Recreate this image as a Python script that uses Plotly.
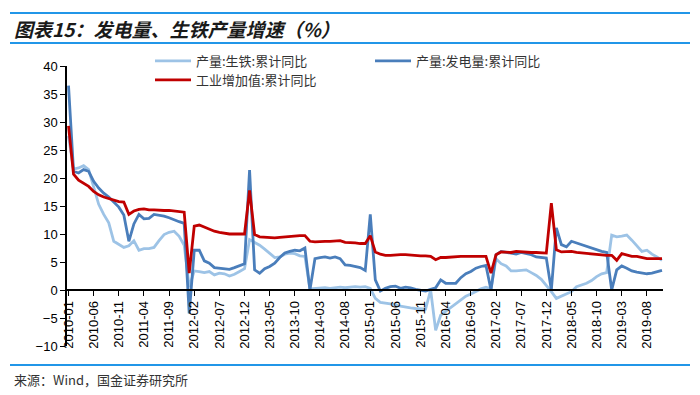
import plotly.graph_objects as go

# ---------------- data ----------------
months = [f"{y}-{m:02d}" for y in range(2010, 2020) for m in range(1, 13)][:119]
tick_labels = months[::5]

# 产量:生铁:累计同比
pig_iron = [
    27.5, 21.6, 21.8, 22.2, 21.5, 18.5, 15.3, 13.5, 12.0, 8.7, 8.1, 7.6,
    7.9, 8.8, 7.1, 7.4, 7.4, 7.6, 8.8, 9.9, 10.3, 10.5, 9.6, 8.0,
    0.5, 3.4, 3.3, 3.1, 3.3, 2.7, 3.0, 2.9, 2.5, 2.8, 3.3, 3.8,
    9.0, 8.5, 8.0, 7.3, 6.5, 5.8, 5.9, 6.4, 6.6, 6.5, 6.1, 6.0,
    0.2, 0.3, 0.3, 0.4, 0.3, 0.4, 0.5, 0.4, 0.5, 0.6, 0.5, 0.6,
    0.3, -1.5, -2.2, -2.3, -2.4, -2.6, -2.9, -3.1, -3.2, -3.3, -3.4, -3.4,
    0.0, -7.2, -4.5, -3.8, -3.1, -2.4, -1.7, -1.1, -0.7, -0.2, 0.2, 0.5,
    0.2, 5.6, 4.7, 4.3, 3.4, 3.4, 3.5, 3.6, 3.1, 2.6, 1.9, 0.9,
    -0.3, -1.5, -1.1, -0.8, -0.3, 0.6, 0.9, 1.2, 1.7, 2.4, 2.9, 3.1,
    9.8, 9.5, 9.6, 9.8, 8.9, 7.8, 6.9, 7.1, 6.4, 5.9, 5.3,
]

# 产量:发电量:累计同比
power = [
    36.5, 21.2, 20.9, 21.5, 21.2, 19.4, 18.2, 17.3, 16.6, 15.7, 14.8, 13.4,
    8.7, 11.8, 13.5, 12.7, 12.8, 13.5, 13.4, 13.2, 12.9, 12.5, 12.2, 11.9,
    -4.2, 7.1, 7.1, 5.2, 4.8, 4.0, 3.9, 3.8, 3.7, 4.0, 4.4, 4.7,
    21.4, 3.6, 3.0, 3.8, 4.2, 4.8, 5.8, 6.6, 6.9, 7.1, 7.0, 7.5,
    0.0, 5.6, 5.8, 5.9, 5.7, 5.9, 5.6, 4.5, 4.4, 4.2, 4.0, 3.5,
    13.5, 1.8, -0.2, 0.3, 0.6, 0.7, 0.3, 0.5, 0.4, 0.1, -0.1, -0.2,
    0.1, 0.4, 1.8, 1.2, 1.2, 1.2, 2.2, 2.9, 3.3, 3.9, 4.2, 4.4,
    0.0, 6.3, 6.9, 6.7, 6.5, 6.4, 6.7, 6.5, 6.3, 5.9, 5.8, 5.7,
    0.0, 11.1, 8.1, 7.7, 8.7, 8.4, 8.0, 7.7, 7.4, 7.1, 6.9, 6.7,
    0.0, 3.6, 4.3, 3.9, 3.4, 3.2, 3.0, 2.9, 3.0, 3.2, 3.5,
]

# 工业增加值:累计同比
industry = [
    29.3, 20.7, 19.6, 19.1, 18.5, 17.6, 17.0, 16.6, 16.3, 16.1, 15.8, 15.7,
    13.5, 14.1, 14.4, 14.5, 14.3, 14.3, 14.2, 14.2, 14.2, 14.1, 14.0, 13.9,
    3.0, 11.4, 11.6, 11.2, 10.9, 10.5, 10.3, 10.1, 10.0, 10.0, 10.0, 10.0,
    17.8, 9.9, 9.5, 9.4, 9.4, 9.3, 9.4, 9.5, 9.6, 9.7, 9.7, 9.7,
    8.7, 8.6, 8.7, 8.7, 8.7, 8.8, 8.8, 8.5, 8.5, 8.4, 8.3, 8.3,
    9.7, 6.8, 6.4, 6.2, 6.2, 6.3, 6.3, 6.3, 6.2, 6.1, 6.1, 6.1,
    6.0, 5.4, 5.8, 5.8, 5.9, 6.0, 6.0, 6.0, 6.0, 6.0, 6.0, 6.0,
    3.0, 6.3, 6.8, 6.7, 6.7, 6.9, 6.8, 6.7, 6.7, 6.7, 6.6, 6.6,
    15.5, 7.2, 6.8, 6.9, 6.9, 6.7, 6.6, 6.5, 6.4, 6.4, 6.3, 6.2,
    6.2, 5.3, 6.5, 6.2, 6.0, 6.0, 5.8, 5.6, 5.6, 5.6, 5.6,
]

y_ticks = [-10, -5, 0, 5, 10, 15, 20, 25, 30, 35, 40]

# ---------------- layout geometry ----------------
W, H = 700, 395
L, R, T, B = 67, 37, 66, 49
PW, PH = W - L - R, H - T - B


def pxx(x):
    return (x - L) / PW


def pxy(y):
    return (H - B - y) / PH


C_LIGHT = "#9DC3E6"
C_DARK = "#4A7EBB"
C_RED = "#C00000"
C_RULE = "#2196E8"
CJK = "Noto Sans CJK SC"

fig = go.Figure()
fig.add_trace(go.Scatter(x=months, y=pig_iron, mode="lines", name="产量:生铁:累计同比",
                         line=dict(color=C_LIGHT, width=2.8), legend="legend"))
fig.add_trace(go.Scatter(x=months, y=power, mode="lines", name="产量:发电量:累计同比",
                         line=dict(color=C_DARK, width=2.8), legend="legend2"))
fig.add_trace(go.Scatter(x=months, y=industry, mode="lines", name="工业增加值:累计同比",
                         line=dict(color=C_RED, width=2.8), legend="legend3"))

leg_common = dict(orientation="v", bgcolor="rgba(0,0,0,0)", borderwidth=0,
                  font=dict(family=CJK, size=13, color="#333333"),
                  xanchor="left", yanchor="middle", itemwidth=36)

shapes = []
for yy, x0, x1 in [(13, 10, 690), (43, 10, 690), (365, 10, 690)]:
    shapes.append(dict(type="line", xref="paper", yref="paper",
                       x0=pxx(x0), x1=pxx(x1), y0=pxy(yy), y1=pxy(yy),
                       line=dict(color=C_RULE, width=2)))

annotations = [
    dict(text="<b><i>图表15：发电量、生铁产量增速（%）</i></b>", xref="paper", yref="paper",
         x=pxx(12), y=pxy(28), xanchor="left", yanchor="middle", showarrow=False,
         font=dict(family=CJK, size=19, color="#1a1a1a")),
    dict(text="来源：Wind，国金证券研究所", xref="paper", yref="paper",
         x=pxx(12), y=pxy(379), xanchor="left", yanchor="middle", showarrow=False,
         font=dict(family=CJK, size=13, color="#333333")),
]

fig.update_layout(
    width=W, height=H,
    margin=dict(l=L, r=R, t=T, b=B, pad=0),
    paper_bgcolor="white", plot_bgcolor="white",
    showlegend=True,
    legend=dict(x=pxx(150), y=pxy(61), **leg_common),
    legend2=dict(x=pxx(370), y=pxy(61), **leg_common),
    legend3=dict(x=pxx(150), y=pxy(80), **leg_common),
    shapes=shapes,
    annotations=annotations,
    xaxis=dict(
        type="category", categoryorder="array", categoryarray=months,
        range=[-0.3, 118.2],
        anchor="free", position=0.2,
        tickmode="array", tickvals=tick_labels, ticktext=tick_labels,
        tickangle=-90, ticks="outside", ticklen=5, tickcolor="black", tickwidth=1,
        showline=True, linecolor="black", linewidth=1.5,
        showgrid=False, zeroline=False,
        tickfont=dict(family="Arial, Liberation Sans", size=13, color="black"),
    ),
    yaxis=dict(
        range=[-10, 40], tickvals=y_ticks,
        ticks="outside", ticklen=5, tickcolor="black", tickwidth=1,
        showline=True, linecolor="black", linewidth=1.5,
        showgrid=False, zeroline=False,
        tickfont=dict(family="Arial, Liberation Sans", size=13, color="black"),
    ),
)

fig.write_html(
    "out.html",
    config={"displayModeBar": False},
    post_script="document.body.style.margin='0px';document.body.style.overflow='hidden';",
)
